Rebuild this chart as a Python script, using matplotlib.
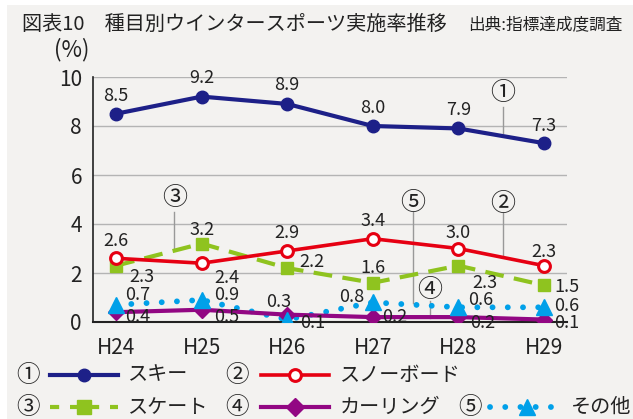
import matplotlib
matplotlib.use("Agg")
import matplotlib.pyplot as plt
from matplotlib.patches import Rectangle
from matplotlib.lines import Line2D

plt.rcParams['font.family'] = ['Noto Sans CJK JP', 'DejaVu Sans']

# ---- data ----
years = ["H24", "H25", "H26", "H27", "H28", "H29"]
ski = [8.5, 9.2, 8.9, 8.0, 7.9, 7.3]
snowboard = [2.6, 2.4, 2.9, 3.4, 3.0, 2.3]
skate = [2.3, 3.2, 2.2, 1.6, 2.3, 1.5]
curling = [0.4, 0.5, 0.3, 0.2, 0.2, 0.1]
other = [0.7, 0.9, 0.1, 0.8, 0.6, 0.6]
yticks = [0, 2, 4, 6, 8, 10]

title = "図表10　種目別ウインタースポーツ実施率推移"
source = "出典:指標達成度調査"
names = ["スキー", "スノーボード", "スケート", "カーリング", "その他"]
nums = ["①", "②", "③", "④", "⑤"]

# label offsets in pixels (dx, dy)
ski_off = [(0, 18), (0, 19), (0, 19), (0, 18), (0, 18), (0, 17)]
snow_off = [(0, 17), (25, -15), (0, 18), (0, 18), (0, 16), (0, 14)]
skate_off = [(26, -11), (0, 14), (25, 6), (0, 15), (27, -17), (23, -2)]
curl_off = [(22, -5), (25, -7), (-9, 13), (22, 0), (24, -6), (23, -3)]
other_off = [(22, 10), (25, 5), (25, -3), (-21, 5), (22, 7), (23, 1)]

C_SKI = "#1d2088"
C_SNOW = "#e60012"
C_SKATE = "#8fc31f"
C_CURL = "#920783"
C_OTHER = "#00a0e9"
BG = "#f3f2f0"
TXT = "#222222"

W, H = 633, 419
fig = plt.figure(figsize=(W / 100, H / 100), dpi=100)
fig.patch.set_facecolor(BG)
# white margins at left and top
fig.patches.append(Rectangle((0, 0), 7 / W, 1, transform=fig.transFigure,
                             facecolor="white", edgecolor="none", zorder=-10))
fig.patches.append(Rectangle((0, 1 - 5 / H), 1, 5 / H, transform=fig.transFigure,
                             facecolor="white", edgecolor="none", zorder=-10))

ax = fig.add_axes([93 / W, 1 - 322 / H, (567 - 93) / W, (322 - 77) / H])
ax.set_facecolor("none")
x = list(range(len(years)))

dotted = (0, (0.01, 2.6))
ax.plot(x, other, color=C_OTHER, lw=4.2, linestyle=dotted, dash_capstyle="round", zorder=3)
ax.plot(x, other, color=C_OTHER, lw=0, marker="^", ms=12, zorder=5)
ax.plot(x, curling, color=C_CURL, lw=3, marker="D", ms=8, zorder=4)
ax.plot(x, skate, color=C_SKATE, lw=3, linestyle=(0, (4.5, 2.5)), marker="s", ms=9, zorder=4)
ax.plot(x, snowboard, color=C_SNOW, lw=2.6, marker="o", ms=8.5, mfc="white", mec=C_SNOW, mew=2.2, zorder=4)
ax.plot(x, ski, color=C_SKI, lw=3, marker="o", ms=9, zorder=6)

for series, offs in [(ski, ski_off), (snowboard, snow_off), (skate, skate_off),
                     (curling, curl_off), (other, other_off)]:
    for xi, v, (dx, dy) in zip(x, series, offs):
        ax.annotate(f"{v:.1f}", (xi, v), xytext=(dx, dy), textcoords="offset pixels",
                    ha="center", va="center", fontsize=13, color=TXT, zorder=8)

# callouts: (number index, x, text y, line y0, line y1)
callouts = [(0, 4.52, 9.35, 8.78, 7.71),
            (2, 0.68, 5.06, 4.49, 3.0),
            (4, 3.47, 4.86, 4.49, 0.78),
            (1, 4.52, 4.82, 4.45, 2.73),
            (3, 3.67, 1.31, 0.86, 0.16)]
for i, cx, ty, y0, y1 in callouts:
    ax.plot([cx, cx], [y0, y1], color="#999999", lw=1, zorder=2)
    ax.text(cx, ty, nums[i], ha="center", va="center", fontsize=18, color=TXT, zorder=8)

ax.set_xlim(-0.27, 5.27)
ax.set_ylim(0, 10)
ax.set_yticks(yticks)
ax.set_yticklabels([str(t) for t in yticks])
ax.set_xticks(x)
ax.set_xticklabels(years)
ax.tick_params(axis="both", length=0, labelsize=15, colors=TXT)
ax.tick_params(axis="y", pad=8)
ax.tick_params(axis="x", pad=11)
for t in yticks[1:]:
    ax.axhline(t, color="#b4b4b4", lw=1, zorder=1)
for s in ["top", "right"]:
    ax.spines[s].set_visible(False)
ax.spines["left"].set_color(TXT)
ax.spines["left"].set_linewidth(1.2)
ax.spines["bottom"].set_color(TXT)
ax.spines["bottom"].set_linewidth(1.5)

# overlay in pixel coordinates for titles and legend
ov = fig.add_axes([0, 0, 1, 1])
ov.set_xlim(0, W)
ov.set_ylim(H, 0)
ov.axis("off")
ov.patch.set_visible(False)

ov.text(22, 24, title, ha="left", va="center", fontsize=14.5, color=TXT)
ov.text(623, 25, source, ha="right", va="center", fontsize=12, color=TXT)
ov.text(72, 50, "(%)", ha="center", va="center", fontsize=16, color=TXT)

# legend
styles = [
    dict(color=C_SKI, lw=3, marker="o", ms=9),
    dict(color=C_SNOW, lw=2.6, marker="o", ms=8.5, mfc="white", mec=C_SNOW, mew=2.2),
    dict(color=C_SKATE, lw=3, linestyle=(0, (2.2, 2.6)), marker="s", ms=10),
    dict(color=C_CURL, lw=3, marker="D", ms=9),
    dict(color=C_OTHER, lw=4.2, linestyle=dotted, dash_capstyle="round", marker="^", ms=12),
]
# (num x, line x0, line x1, text x, y)
leg_pos = [(28, 50, 118, 128, 375),
           (237, 261, 329, 340, 375),
           (28, 50, 118, 128, 407),
           (237, 261, 329, 340, 407),
           (470, 490, 563, 571, 407)]
for i, (nx, x0, x1, tx, ly) in enumerate(leg_pos):
    ov.text(nx, ly, nums[i], ha="center", va="center", fontsize=17, color=TXT)
    st = dict(styles[i])
    mk = st.pop("marker")
    ms = st.pop("ms")
    mfc = st.pop("mfc", None)
    mec = st.pop("mec", None)
    mew = st.pop("mew", None)
    ov.add_line(Line2D([x0, x1], [ly, ly], **st))
    mkw = dict(marker=mk, ms=ms, lw=0, color=st["color"])
    if mfc:
        mkw.update(mfc=mfc, mec=mec, mew=mew)
    ov.add_line(Line2D([(x0 + x1) / 2], [ly], **mkw))
    ov.text(tx, ly, names[i], ha="left", va="center", fontsize=14.5, color=TXT)

fig.savefig("out.png", dpi=100, facecolor=fig.get_facecolor())
